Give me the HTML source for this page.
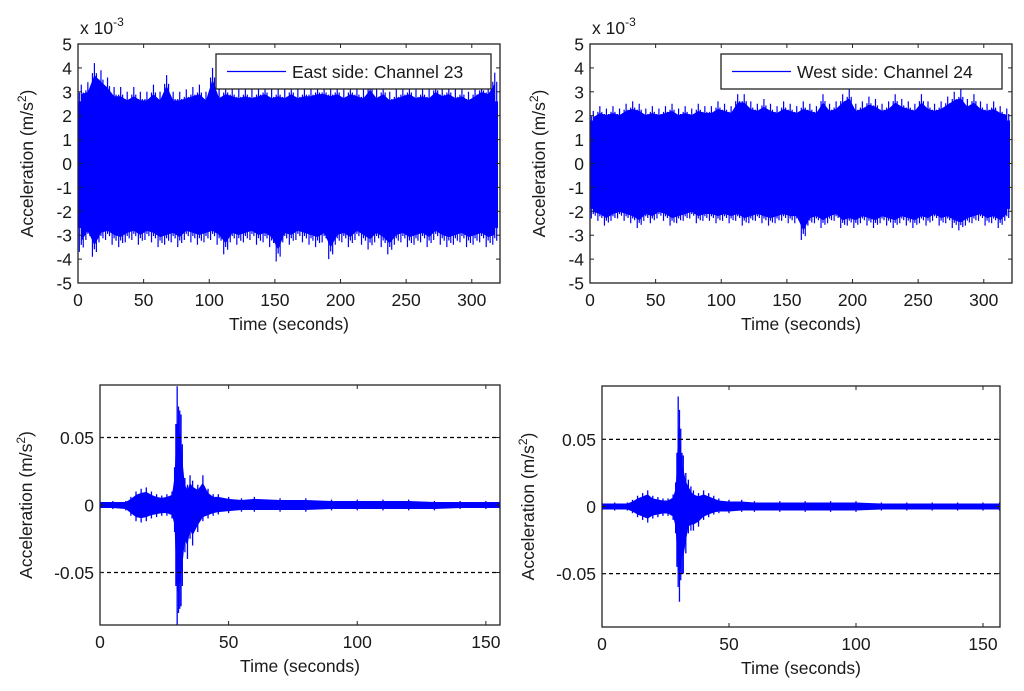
<!DOCTYPE html>
<html><head><meta charset="utf-8">
<style>
html,body{margin:0;padding:0;background:#fff;}
svg{display:block;font-family:"Liberation Sans",Arial,sans-serif;}
text{fill:#1a1a1a;}
</style></head>
<body>
<svg id="fig" width="1024" height="691" viewBox="0 0 1024 691" xmlns="http://www.w3.org/2000/svg"></svg>
<script>
// ---------- data ----------
// Top-left: East side Channel 23, per-5s-bin peaks (x1e-3 m/s^2)
const eastHi = [3.3,3.4,4.2,3.9,3.6,3.2,3.2,3.0,3.2,3.0,3.0,3.3,3.0,3.7,3.0,3.0,3.1,3.2,3.3,3.0,4.0,3.1,3.3,3.2,3.1,3.2,3.1,3.2,3.3,3.1,3.2,3.1,3.3,3.1,3.2,3.2,3.3,3.3,3.2,3.3,3.1,3.3,3.2,3.1,3.5,3.1,3.3,3.0,3.1,3.2,3.3,3.1,3.2,3.1,3.4,3.2,3.3,3.1,3.2,3.0,3.2,3.4,3.3,3.8];
const eastLo = [-3.7,-3.2,-3.9,-3.3,-3.2,-3.4,-3.5,-3.3,-3.2,-3.4,-3.2,-3.3,-3.5,-3.4,-3.3,-3.5,-3.2,-3.3,-3.4,-3.3,-3.2,-3.4,-3.8,-3.3,-3.4,-3.3,-3.2,-3.4,-3.3,-3.5,-4.1,-3.3,-3.4,-3.2,-3.3,-3.4,-3.5,-3.3,-4.0,-3.4,-3.3,-3.5,-3.2,-3.4,-3.6,-3.3,-3.5,-3.8,-3.4,-3.3,-3.5,-3.4,-3.3,-3.5,-3.2,-3.4,-3.5,-3.4,-3.3,-3.5,-3.4,-3.3,-3.5,-3.4];
const eastCore = [2.6,-2.7];
// Top-right: West side Channel 24
const westHi = [2.2,2.4,2.3,2.4,2.3,2.5,2.6,2.5,2.3,2.4,2.3,2.4,2.5,2.3,2.4,2.3,2.5,2.4,2.4,2.6,2.5,2.4,2.9,2.9,2.6,2.5,2.7,2.5,2.4,2.6,2.5,2.4,2.6,2.5,2.4,2.9,2.5,2.6,2.9,3.1,2.5,2.6,2.8,2.7,2.5,2.6,2.9,2.7,2.6,2.5,2.9,2.6,2.5,2.6,2.8,3.0,3.1,2.7,2.9,2.6,2.5,2.6,2.4,2.3];
const westLo = [-2.3,-2.4,-2.6,-2.4,-2.3,-2.4,-2.5,-2.7,-2.4,-2.5,-2.3,-2.4,-2.6,-2.5,-2.4,-2.3,-2.5,-2.4,-2.4,-2.5,-2.4,-2.5,-2.4,-2.6,-2.5,-2.4,-2.5,-2.6,-2.5,-2.4,-2.5,-2.5,-3.2,-2.6,-2.5,-2.7,-2.5,-2.4,-2.7,-2.6,-2.7,-2.5,-2.6,-2.7,-2.5,-2.6,-2.7,-2.5,-2.6,-2.7,-2.5,-2.6,-2.4,-2.6,-2.5,-2.7,-2.8,-2.6,-2.5,-2.4,-2.6,-2.5,-2.7,-2.4];
const westCore = [1.8,-1.9];
const topBinWidth = 5; // seconds per bin
const topTicksX = [0,50,100,150,200,250,300];
const topTicksY = [-5,-4,-3,-2,-1,0,1,2,3,4,5];
// Bottom: earthquake records (x1e-3 m/s^2)
const eqTimeL = [0,5,10,12,14,16,18,20,22,24,26,28,29,29.5,30,30.5,31,31.5,32,33,34,35,36,38,40,42,44,46,50,55,60,70,80,90,100,110,120,130,140,150,155.5];
const eqHiL = [3,3,3,6,10,12,13,10,8,7,8,10,28,60,88,73,70,67,45,20,15,22,18,15,22,12,8,8,6,5,6,5,5,4,4,4,4,3,3,3,3];
const eqLoL = [-3,-3,-4,-8,-12,-13,-12,-10,-9,-8,-8,-10,-20,-60,-90,-80,-77,-75,-60,-35,-40,-25,-30,-20,-12,-10,-8,-7,-6,-5,-5,-5,-5,-4,-4,-4,-4,-4,-3,-3,-3];
const eqTimeR = [0,5,10,12,14,16,18,20,22,24,26,28,29,29.5,30,30.5,31,31.5,32,33,34,35,36,38,40,42,44,46,50,55,60,70,80,90,100,110,120,130,140,150,156.5];
const eqHiR = [3,3,3,5,8,10,12,8,7,6,6,9,18,40,82,72,58,40,38,25,20,15,12,10,12,10,8,6,5,5,4,4,4,4,4,3,3,3,3,3,3];
const eqLoR = [-3,-3,-3,-5,-8,-10,-12,-9,-8,-7,-7,-10,-20,-45,-60,-71,-55,-50,-50,-35,-20,-18,-18,-15,-10,-8,-6,-5,-5,-4,-4,-4,-4,-4,-4,-3,-3,-3,-3,-3,-3];
const botTicksX = [0,50,100,150];
const botTicksY = [-0.05,0,0.05];
const botTickLabels = ["-0.05","0","0.05"];

// ---------- drawing ----------
const NS="http://www.w3.org/2000/svg";
const svg=document.getElementById('fig');
const FS=17.5;
function el(tag,attrs,parent){const e=document.createElementNS(NS,tag);for(const k in attrs)e.setAttribute(k,attrs[k]);(parent||svg).appendChild(e);return e;}
function makeScale(d0,d1,r0,r1){return v=>r0+(v-d0)*(r1-r0)/(d1-d0);}

function axesFrame(g,box,xs,ys,xt,yt,ylabels,name,dashY){
  const [x0,y0,x1,y1]=box;
  if(dashY){dashY.forEach(v=>{const l=el('line',{x1:x0,x2:x1,y1:ys(v),y2:ys(v),stroke:'#000','stroke-width':1.3,'stroke-dasharray':'4,3'},g);
    
    });}
  const r=el('rect',{x:x0,y:y0,width:x1-x0,height:y1-y0,fill:'none',stroke:'#222','stroke-width':1.3},g);
  
  
  xt.forEach(v=>{const x=xs(v);
    el('line',{x1:x,x2:x,y1:y1,y2:y1-4,stroke:'#222'},g);el('line',{x1:x,x2:x,y1:y0,y2:y0+4,stroke:'#222'},g);
    const t=el('text',{x:x,y:y1+23,'text-anchor':'middle','font-size':FS},g);t.textContent=v;
    
    });
  yt.forEach((v,i)=>{const y=ys(v);
    el('line',{x1:x0,x2:x0+4,y1:y,y2:y,stroke:'#222'},g);el('line',{x1:x1,x2:x1-4,y1:y,y2:y,stroke:'#222'},g);
    const t=el('text',{x:x0-6,y:y+6.5,'text-anchor':'end','font-size':FS},g);t.textContent=ylabels?ylabels[i]:v;
    
    });
  const xl=el('text',{x:(x0+x1)/2,y:y1+47,'text-anchor':'middle','font-size':FS},g);xl.textContent='Time (seconds)';
  
  
}
function yTitle(g,x,y){
  const t=el('text',{x:0,y:0,'text-anchor':'middle','font-size':FS,transform:`translate(${x},${y}) rotate(-90)`},g);
  t.innerHTML='Acceleration (m/s<tspan dy="-7" font-size="12">2</tspan><tspan dy="7">)</tspan>';
  
  
}

function topPlot(name,box,hi,lo,core,label,legBox){
  const g=el('g',{});
  
  
  const [x0,y0,x1,y1]=box;
  const xs=makeScale(0,300,x0,x0+(x1-x0)*300/321.5);
  const ys=makeScale(-5,5,y1,y0);
  const n=hi.length;
  const xmax=n*topBinWidth;
  const band=el('rect',{x:xs(0),y:ys(core[0]),width:xs(xmax)-xs(0),height:ys(core[1])-ys(core[0]),fill:'#0000ff'},g);
  
  
  let pts=[];
  for(let i=0;i<n;i++){const tc=(i+0.5)*topBinWidth;pts.push(xs(tc)+','+ys(Math.max(core[0],hi[i]*0.88)));}
  for(let i=n-1;i>=0;i--){const tc=(i+0.5)*topBinWidth;pts.push(xs(tc)+','+ys(Math.min(core[1],lo[i]*0.88)));}
  const env=el('polygon',{points:pts.join(' '),fill:'#0000ff'},g);
  
  
  for(let i=0;i<n;i++){
    for(let k=0;k<3;k++){
      const tc=(i+0.2+0.3*k)*topBinWidth;
      const f=k===1?1:0.9;
      const s=el('line',{x1:xs(tc),x2:xs(tc),y1:ys(hi[i]*f),y2:ys(lo[i]*(k===1?0.92:(k===0?1:0.95))),stroke:'#0000ff','stroke-width':1.2},g);
      
      
    }
  }
  axesFrame(g,box,xs,ys,topTicksX,topTicksY,null,name);
  const ex=el('text',{x:x0+2,y:y0-10,'font-size':FS},g);
  ex.innerHTML='x 10<tspan dy="-8" font-size="12">-3</tspan>';
  
  
  yTitle(g,x0-45,(y0+y1)/2);
  const [lx,ly,lw,lh]=legBox;
  const lg=el('g',{},g);
  
  
  el('rect',{x:lx,y:ly,width:lw,height:lh,fill:'#fff',stroke:'#222','stroke-width':1.3},lg);
  const ll=el('line',{x1:lx+11,x2:lx+70,y1:ly+lh/2,y2:ly+lh/2,stroke:'#0000ff','stroke-width':1.3},lg);
  
  
  const lt=el('text',{x:lx+76,y:ly+lh/2+6.5,'font-size':FS},lg);lt.textContent=label;
  
  
}

function botPlot(name,box,xmaxDom,ylim,times,hi,lo){
  const g=el('g',{});
  
  
  const [x0,y0,x1,y1]=box;
  const xs=makeScale(0,xmaxDom,x0,x1);
  const ys=makeScale(-ylim,ylim,y1,y0);
  const clip=el('clipPath',{id:name+'-clip'},g);
  el('rect',{x:x0,y:y0,width:x1-x0,height:y1-y0},clip);
  const dg=el('g',{'clip-path':`url(#${name}-clip)`},g);
  let pts=[];
  for(let i=0;i<times.length;i++)pts.push(xs(times[i])+','+ys(hi[i]/1000*0.75));
  for(let i=times.length-1;i>=0;i--)pts.push(xs(times[i])+','+ys(lo[i]/1000*0.75));
  const env=el('polygon',{points:pts.join(' '),fill:'#0000ff'},dg);
  
  
  for(let i=0;i<times.length;i++){
    const s=el('line',{x1:xs(times[i]),x2:xs(times[i]),y1:ys(hi[i]/1000),y2:ys(lo[i]/1000),stroke:'#0000ff','stroke-width':1.3},dg);
    
    
  }
  axesFrame(g,box,xs,ys,botTicksX,botTicksY,botTickLabels,name,[0.05,-0.05]);
  yTitle(g,x0-68,(y0+y1)/2);
}

topPlot('east-plot',[78,44,500,283],eastHi,eastLo,eastCore,'East side: Channel 23',[216,54,275,35]);
topPlot('west-plot',[590,44,1012,283],westHi,westLo,westCore,'West side: Channel 24',[721,54,281,35]);
botPlot('east-quake-plot',[100,385,500,625],155.5,0.0889,eqTimeL,eqHiL,eqLoL);
botPlot('west-quake-plot',[602,386,1000,627],156.7,0.0898,eqTimeR,eqHiR,eqLoR);
</script>
</body></html>
